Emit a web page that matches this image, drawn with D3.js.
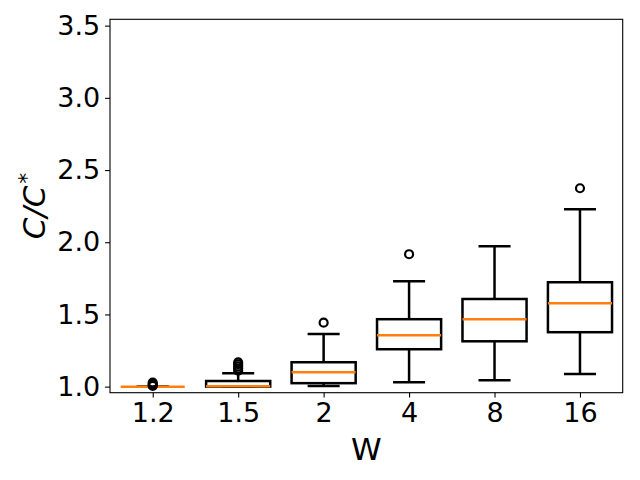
<!DOCTYPE html>
<html>
<head>
<meta charset="utf-8">
<script src="https://cdn.jsdelivr.net/npm/d3@7"></script>
<style>
  body { margin: 0; background: #fff; }
  text { font-family: "DejaVu Sans", sans-serif; }
</style>
</head>
<body>
<div id="chart"></div>
<script>
// values
var categories = ['1.2', '1.5', '2', '4', '8', '16'];
var whiskerLow = [1.000, 1.000, 1.005, 1.030, 1.044, 1.088];
var q1         = [1.000, 1.000, 1.024, 1.259, 1.314, 1.377];
var medians    = [1.000, 1.003, 1.100, 1.356, 1.467, 1.578];
var q3         = [1.000, 1.039, 1.169, 1.467, 1.607, 1.723];
var whiskerHigh= [1.000, 1.093, 1.365, 1.730, 1.972, 2.228];
var outliers   = [
	[1.005, 1.012, 1.020, 1.028],
	[1.110, 1.125, 1.140, 1.155, 1.168],
	[1.443],
	[1.917],
	[],
	[2.374]
];
var yTicks = [1.0, 1.5, 2.0, 2.5, 3.0, 3.5];

var width = 640, height = 480;
var margin = {top: 19.3, right: 17.3, bottom: 87.3, left: 110};
var plotW = width - margin.left - margin.right;
var plotH = height - margin.top - margin.bottom;
var lw = 2.5;

var svg = d3.select('#chart')
	.append('svg')
	.attr('width', width)
	.attr('height', height);

var g = svg.append('g')
	.attr('transform', 'translate(' + margin.left + ',' + margin.top + ')');

// positions 1..6, limits 0.5..6.5 like matplotlib boxplot
var x = d3.scaleLinear().domain([0.5, 6.5]).range([0, plotW]);
var y = d3.scaleLinear().domain([0.958, 3.544]).range([plotH, 0]);

var boxW = x(0.75) - x(0);
var capW = boxW / 2;

var rows = categories.map(function(c, i) {
	return {cat: c, pos: i + 1, lo: whiskerLow[i], q1: q1[i], med: medians[i],
		q3: q3[i], hi: whiskerHigh[i], out: outliers[i]};
});

var box = g.selectAll('g.box')
	.data(rows)
	.enter()
	.append('g')
	.attr('class', 'box');

// whiskers
box.append('line')
	.attr('x1', function(d) { return x(d.pos); })
	.attr('x2', function(d) { return x(d.pos); })
	.attr('y1', function(d) { return y(d.lo); })
	.attr('y2', function(d) { return y(d.q1); })
	.attr('stroke', '#000').attr('stroke-width', lw);
box.append('line')
	.attr('x1', function(d) { return x(d.pos); })
	.attr('x2', function(d) { return x(d.pos); })
	.attr('y1', function(d) { return y(d.q3); })
	.attr('y2', function(d) { return y(d.hi); })
	.attr('stroke', '#000').attr('stroke-width', lw);

// caps
['lo', 'hi'].forEach(function(k) {
	box.append('line')
		.attr('x1', function(d) { return x(d.pos) - capW / 2; })
		.attr('x2', function(d) { return x(d.pos) + capW / 2; })
		.attr('y1', function(d) { return y(d[k]); })
		.attr('y2', function(d) { return y(d[k]); })
		.attr('stroke', '#000').attr('stroke-width', lw);
});

// boxes
box.append('rect')
	.attr('x', function(d) { return x(d.pos) - boxW / 2; })
	.attr('y', function(d) { return y(d.q3); })
	.attr('width', boxW)
	.attr('height', function(d) { return y(d.q1) - y(d.q3); })
	.attr('fill', 'none')
	.attr('stroke', '#000').attr('stroke-width', lw);

// medians
box.append('line')
	.attr('x1', function(d) { return x(d.pos) - boxW / 2; })
	.attr('x2', function(d) { return x(d.pos) + boxW / 2; })
	.attr('y1', function(d) { return y(d.med); })
	.attr('y2', function(d) { return y(d.med); })
	.attr('stroke', '#ff7f0e').attr('stroke-width', lw);

// fliers
box.selectAll('circle')
	.data(function(d) { return d.out.map(function(v) { return {pos: d.pos, v: v}; }); })
	.enter()
	.append('circle')
	.attr('cx', function(d) { return x(d.pos); })
	.attr('cy', function(d) { return y(d.v); })
	.attr('r', 4)
	.attr('fill', 'none')
	.attr('stroke', '#000').attr('stroke-width', 2.2);

// axes
var xAxis = d3.axisBottom(x)
	.tickValues(d3.range(1, categories.length + 1))
	.tickFormat(function(d) { return categories[d - 1]; })
	.tickSize(4.9).tickPadding(4.9);
var yAxis = d3.axisLeft(y)
	.tickValues(yTicks)
	.tickFormat(d3.format('.1f'))
	.tickSize(4.9).tickPadding(4.9);

var gx = g.append('g')
	.attr('transform', 'translate(0,' + plotH + ')')
	.call(xAxis);
var gy = g.append('g').call(yAxis);

[gx, gy].forEach(function(a) {
	a.select('.domain').remove();
	a.selectAll('.tick line').attr('stroke', '#000').attr('stroke-width', 1.1);
	a.selectAll('.tick text')
		.attr('fill', '#000')
		.style('font-size', '27px')
		.style('font-family', '"DejaVu Sans", sans-serif');
});

// frame
g.append('rect')
	.attr('width', plotW)
	.attr('height', plotH)
	.attr('fill', 'none')
	.attr('stroke', '#000')
	.attr('stroke-width', 1.1);

// axis labels
svg.append('text')
	.attr('x', margin.left + plotW / 2)
	.attr('y', 460)
	.attr('text-anchor', 'middle')
	.style('font-size', '31px')
	.text('W');

var yl = svg.append('text')
	.attr('transform', 'translate(45,' + (margin.top + plotH / 2) + ') rotate(-90)')
	.attr('text-anchor', 'middle')
	.style('font-size', '31px')
	.style('font-style', 'italic');
yl.append('tspan').text('C/C');
yl.append('tspan')
	.attr('dx', '0.08em')
	.attr('dy', '-0.5em')
	.style('font-size', '22px')
	.style('font-style', 'normal')
	.text('*');
</script>
</body>
</html>
